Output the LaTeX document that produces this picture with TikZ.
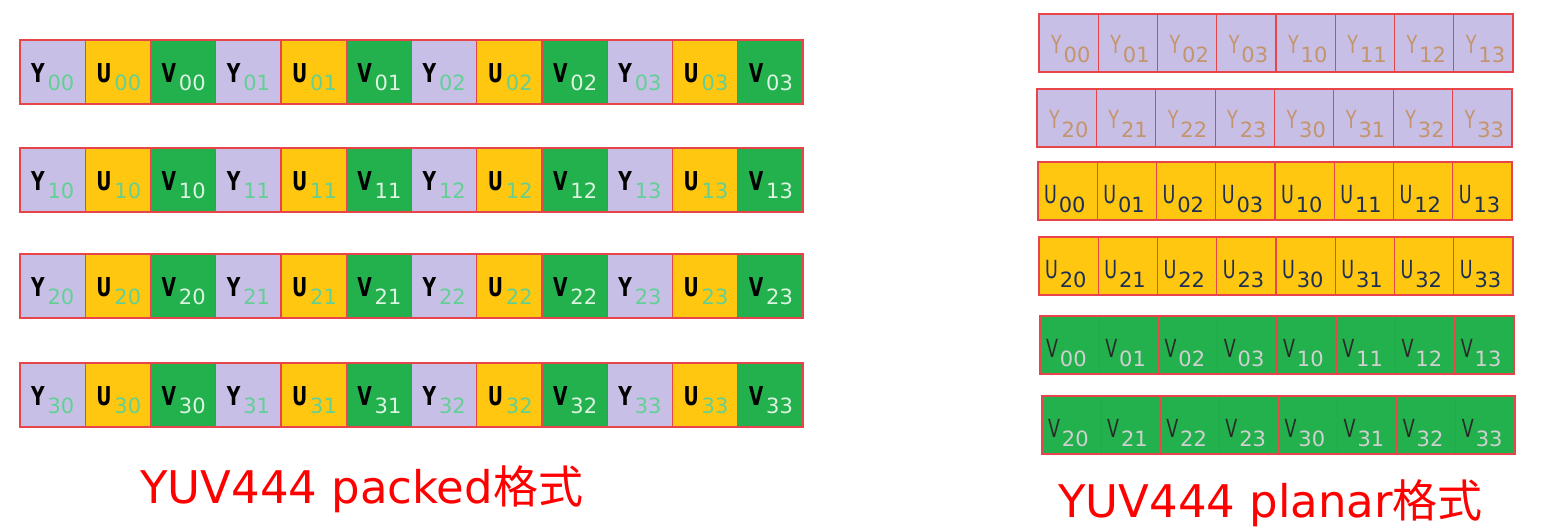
\documentclass[tikz,border=0pt]{standalone}
\usepackage{fontspec}
\usepackage{graphicx}
\setmainfont{DejaVu Sans}
\newfontfamily\cjk{Noto Sans CJK SC}
\definecolor{ylav}{HTML}{C8BFE6}
\definecolor{uyel}{HTML}{FFC70F}
\definecolor{vgrn}{HTML}{22B14C}
\definecolor{bred}{HTML}{E8454A}
\definecolor{subg}{HTML}{62D095}
\definecolor{subw}{HTML}{DDF3E2}
\definecolor{ytan}{HTML}{C4946C}
\definecolor{unavy}{HTML}{1E2F55}
\definecolor{vdark}{HTML}{2A2A2A}
\definecolor{vgray}{HTML}{D0D0D0}
\definecolor{tred}{HTML}{FF0000}
\tikzset{
  cellbox/.style={draw=bred, line width=1.1pt, inner sep=0pt, outer sep=0pt},
  c0/.style={fill=ylav}, c1/.style={fill=uyel}, c2/.style={fill=vgrn},
  rowframe/.style={draw=bred, line width=1.6pt},
  lbl/.style={inner sep=0pt, outer sep=0pt, anchor=base west},
  title/.style={text=tred, inner sep=0pt, anchor=base west, font=\fontsize{45}{45}\selectfont}
}
\begin{document}
\begin{tikzpicture}[x=1pt,y=-1pt]
\useasboundingbox (0,0) rectangle (1560,528);
% ---------- packed ----------
\foreach \r/\ty in {0/40,1/148,2/254,3/363} {
  \foreach \j in {0,...,11} {
    \pgfmathtruncatemacro\t{mod(\j,3)}
    \pgfmathtruncatemacro\k{div(\j,3)}
    \pgfmathsetmacro\cx{20+65.25*\j+32.625}
    \pgfmathsetmacro\cy{\ty+32}
    \pgfmathsetmacro\lx{20+65.25*\j+11}
    \pgfmathsetmacro\ly{\ty+42}
    \node[cellbox, c\t, minimum width=65.25pt, minimum height=64pt] (p-\r-\j) at (\cx,\cy) {};
    \node[lbl] (pl-\r-\j) at (\lx,\ly) {{\fontsize{26}{26}\selectfont\bfseries\color{black}\scalebox{0.72}[1]{\ifcase\t Y\or U\or V\fi}}\kern3pt\raisebox{-8pt}{\fontsize{21}{21}\selectfont\ifnum\t=2 \color{subw}\else\color{subg}\fi\r\k}};
  }
  \draw[rowframe] (p-\r-0.north west) rectangle (p-\r-11.south east);
}
% ---------- planar ----------
\foreach \r/\ty/\lft/\rgt/\t in {0/14/1039/1513/0,1/89/1037/1512/0,2/162/1038/1512/1,3/237/1039/1513/1,4/316/1040/1514/2,5/396/1042/1515/2} {
  \pgfmathsetmacro\w{(\rgt-\lft)/8}
  \foreach \j in {0,...,7} {
    \pgfmathtruncatemacro\a{2*mod(\r,2)+div(\j,4)}
    \pgfmathtruncatemacro\b{mod(\j,4)}
    \pgfmathsetmacro\cx{\lft+\w*\j+\w/2}
    \pgfmathsetmacro\cy{\ty+29}
    \pgfmathsetmacro\lx{\lft+\w*\j+(\t==0 ? 12 : 6)}
    \pgfmathsetmacro\ly{\ty+(\t==0 ? 39 : 41)}
    \node[cellbox, c\t, minimum width=\w pt, minimum height=58pt] (q-\r-\j) at (\cx,\cy) {};
    \node[lbl] (ql-\r-\j) at (\lx,\ly) {\ifcase\t\color{ytan}\or\color{unavy}\or\color{vdark}\fi{\fontsize{25}{25}\selectfont\scalebox{0.7}[1]{\ifcase\t Y\or U\or V\fi}}\kern2pt\raisebox{-9pt}{\fontsize{21}{21}\selectfont\ifnum\t=2 \color{vgray}\fi\a\b}};
  }
  \draw[rowframe] (q-\r-0.north west) rectangle (q-\r-7.south east);
}
% ---------- titles ----------
\node[title] (t1) at (140,503) {YUV444 packed{\cjk 格式}};
\node[title] (t2) at (1058,517) {YUV444 planar{\cjk 格式}};
\end{tikzpicture}
\end{document}
